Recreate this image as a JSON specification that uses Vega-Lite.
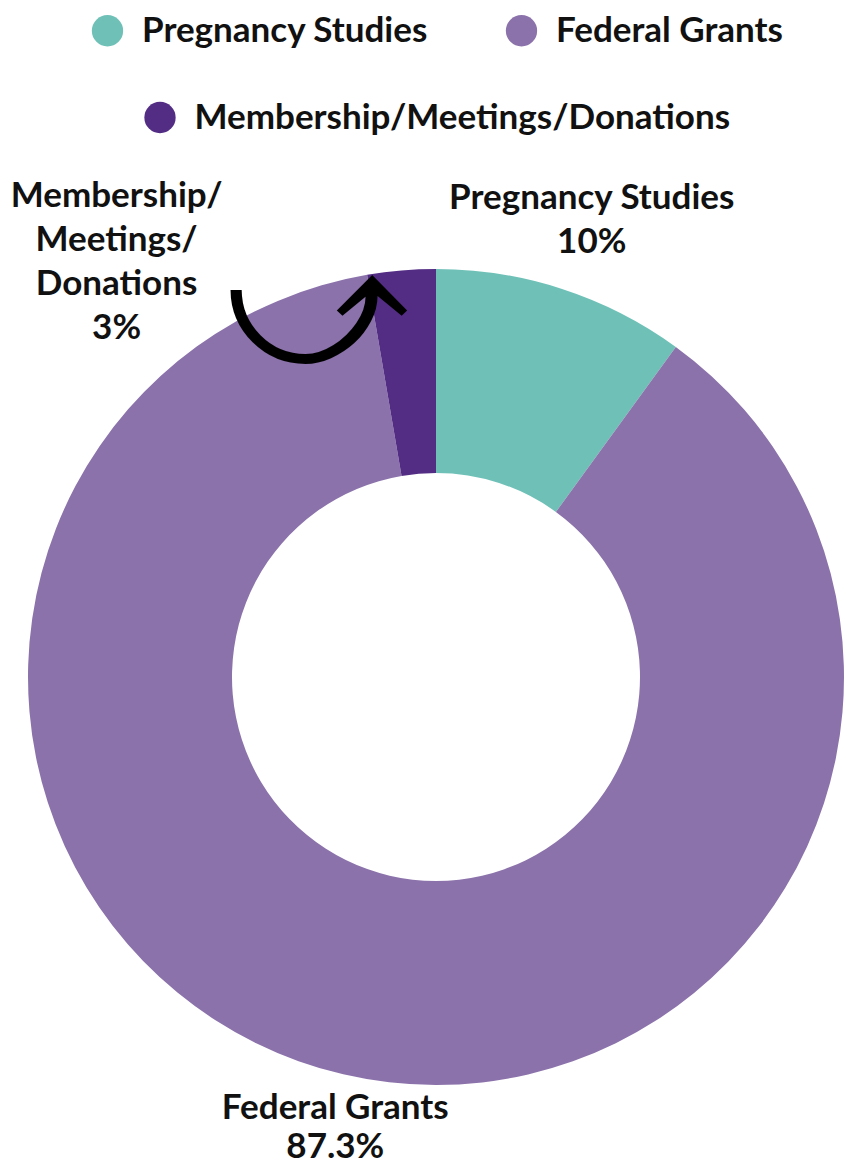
{
  "$schema": "https://vega.github.io/schema/vega-lite/v6.json",
  "width": 832,
  "height": 984,
  "autosize": "none",
  "padding": {"left": 20, "top": 185, "right": 0, "bottom": 0},
  "background": "white",
  "config": {
    "view": {"stroke": null},
    "font": "Lato",
    "legend": {
      "layout": {"top": {"direction": "vertical", "anchor": "middle", "center": true, "margin": 51}}
    }
  },
  "data": {
    "values": [
      {"source": "Pregnancy Studies", "value": 10, "rank": 1, "label": "Pregnancy Studies\n10%"},
      {"source": "Federal Grants", "value": 87.3, "rank": 2, "label": "Federal Grants\n87.3%"},
      {"source": "Membership/Meetings/Donations", "value": 2.7, "rank": 3, "label": "Membership/\nMeetings/\nDonations\n3%"}
    ]
  },
  "encoding": {
    "theta": {"field": "value", "type": "quantitative", "stack": true},
    "order": {"field": "rank", "type": "quantitative"}
  },
  "layer": [
    {
      "mark": {"type": "arc", "innerRadius": 204, "outerRadius": 408},
      "encoding": {
        "color": {
          "field": "source",
          "type": "nominal",
          "scale": {"domain": ["Pregnancy Studies", "Federal Grants"], "range": ["#6fc1b8", "#8b72ab"]},
          "legend": {
            "orient": "top",
            "direction": "horizontal",
            "title": null,
            "symbolType": "circle",
            "symbolSize": 980,
            "symbolStrokeWidth": 0,
            "symbolOpacity": 1,
            "labelFontSize": 35,
            "labelFontWeight": "bold",
            "labelColor": "#111111",
            "labelOffset": 17,
            "columnPadding": 75,
            "labelLimit": 800,
            "offset": 49
          }
        }
      }
    },
    {
      "mark": {"type": "arc", "innerRadius": 204, "outerRadius": 408},
      "encoding": {
        "color": {
          "condition": {
            "test": "datum.source === 'Membership/Meetings/Donations'",
            "field": "source",
            "type": "nominal",
            "scale": {"domain": ["Membership/Meetings/Donations"], "range": ["#532d84"]},
            "legend": {
              "orient": "top",
              "direction": "horizontal",
              "title": null,
              "symbolType": "circle",
              "symbolSize": 980,
              "symbolStrokeWidth": 0,
              "symbolOpacity": 1,
              "labelFontSize": 35,
              "labelFontWeight": "bold",
              "labelColor": "#111111",
              "labelOffset": 17,
              "labelLimit": 800,
              "offset": 49
            }
          },
          "value": "transparent"
        }
      }
    },
    {
      "mark": {"type": "text", "radius": 504, "fontSize": 35, "fontWeight": "bold", "lineHeight": 44, "lineBreak": "\n", "align": "center", "baseline": "middle", "color": "#111111"},
      "encoding": {"text": {"condition": {"test": "datum.rank === 1", "field": "label"}, "value": ""}}
    },
    {
      "mark": {"type": "text", "radius": 443, "fontSize": 35, "fontWeight": "bold", "lineHeight": 39, "lineBreak": "\n", "align": "center", "baseline": "middle", "color": "#111111"},
      "encoding": {"text": {"condition": {"test": "datum.rank === 2", "field": "label"}, "value": ""}}
    },
    {
      "mark": {"type": "text", "radius": 418, "dx": -284, "dy": -65, "fontSize": 35, "fontWeight": "bold", "lineHeight": 44, "lineBreak": "\n", "align": "center", "baseline": "middle", "color": "#111111"},
      "encoding": {"text": {"condition": {"test": "datum.rank === 3", "field": "label"}, "value": ""}}
    },
    {
      "mark": {"type": "text", "radius": 418, "dx": -84, "dy": 52, "font": "DejaVu Sans", "fontSize": 172, "align": "center", "baseline": "middle", "color": "#000000"},
      "encoding": {"text": {"condition": {"test": "datum.rank === 3", "value": "⤻"}, "value": ""}}
    }
  ],
  "resolve": {"scale": {"color": "independent"}}
}
